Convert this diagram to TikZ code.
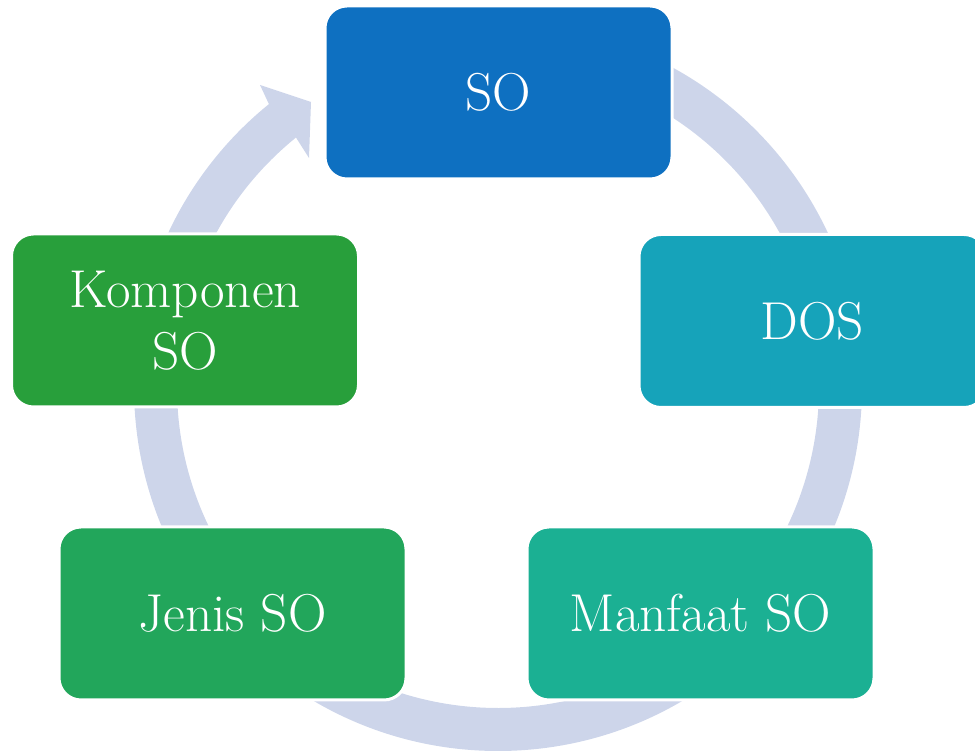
\documentclass[tikz,border=0pt]{standalone}
\definecolor{ringc}{HTML}{CDD5EA}
\definecolor{cso}{HTML}{0E70C1}
\definecolor{cdos}{HTML}{16A3BA}
\definecolor{cman}{HTML}{1BB093}
\definecolor{cjen}{HTML}{22A65B}
\definecolor{ckom}{HTML}{289F3B}
\begin{document}
\begin{tikzpicture}[x=0.75pt,y=0.75pt,
  box/.style={rounded corners=16.5pt, draw=white, line width=2.25pt, text=white,
    minimum width=260.25pt, minimum height=129.75pt, inner sep=0pt, align=center,
    font=\fontsize{40}{46.5}\selectfont}]
\useasboundingbox (0,0) rectangle (975,752);
\coordinate (c) at (498,365);
\fill[ringc] ([shift={(c)}]90:273pt) arc[start angle=90,end angle=-231,radius=273pt]
  -- (260,667) -- (311,650) -- (309,594)
  -- ([shift={(c)}]-231:240.75pt) arc[start angle=-231,end angle=90,radius=240.75pt] -- cycle;
\node[box, fill=cso] (so) at (498.5,659.5) {SO};
\node[box, fill=cdos] (dos) at (812.5,431) {DOS};
\node[box, fill=cman] (man) at (700.5,138.5) {Manfaat SO};
\node[box, fill=cjen] (jen) at (232.5,138.5) {Jenis SO};
\node[box, fill=ckom] (kom) at (185,431.5) {Komponen\\SO};
\end{tikzpicture}
\end{document}
